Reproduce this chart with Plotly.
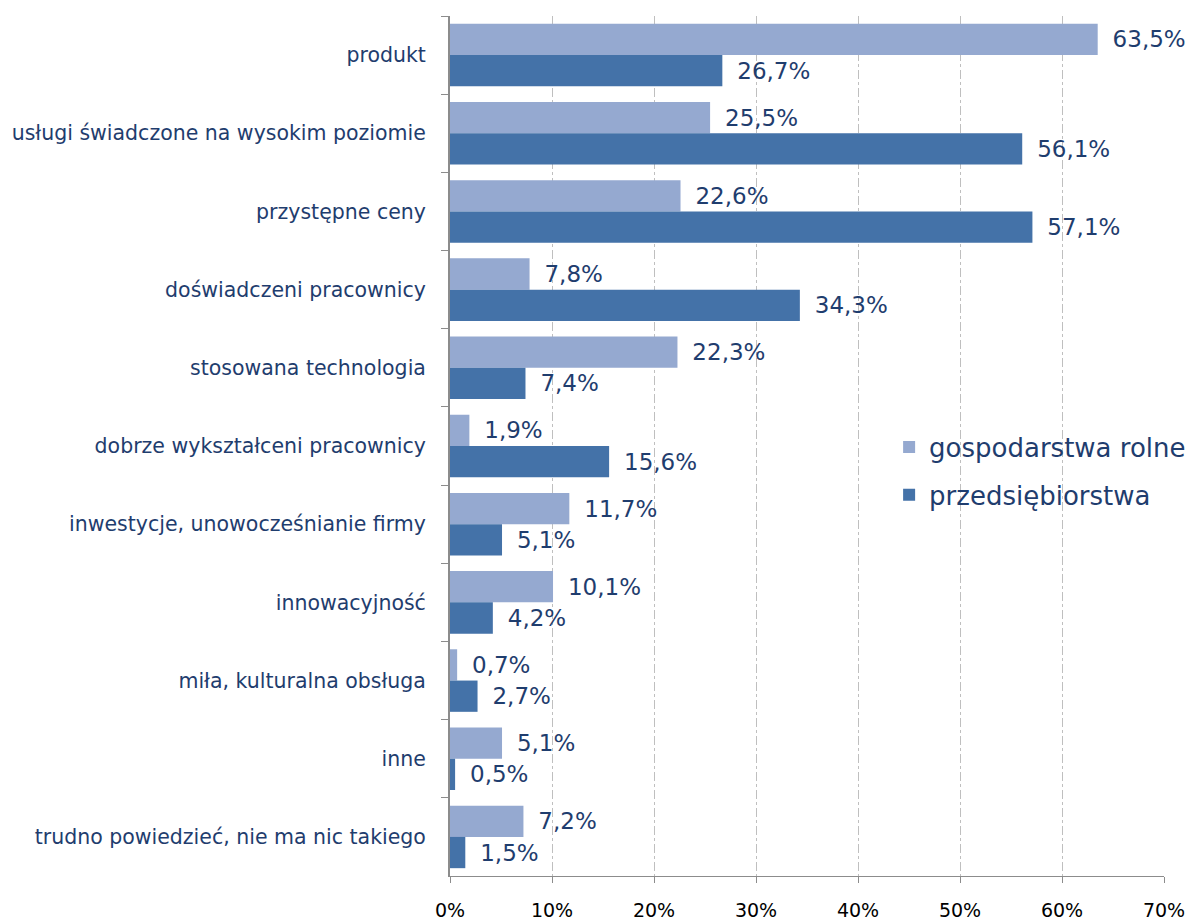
import plotly.graph_objects as go

categories = [
    "produkt",
    "usługi świadczone na wysokim poziomie",
    "przystępne ceny",
    "doświadczeni pracownicy",
    "stosowana technologia",
    "dobrze wykształceni pracownicy",
    "inwestycje, unowocześnianie firmy",
    "innowacyjność",
    "miła, kulturalna obsługa",
    "inne",
    "trudno powiedzieć, nie ma nic takiego",
]
gospodarstwa = [63.5, 25.5, 22.6, 7.8, 22.3, 1.9, 11.7, 10.1, 0.7, 5.1, 7.2]
przedsiebiorstwa = [26.7, 56.1, 57.1, 34.3, 7.4, 15.6, 5.1, 4.2, 2.7, 0.5, 1.5]
series_names = ["gospodarstwa rolne", "przedsiębiorstwa"]
tick_vals = [0, 10, 20, 30, 40, 50, 60, 70]
tick_text = ["0%", "10%", "20%", "30%", "40%", "50%", "60%", "70%"]

FONT = "DejaVu Sans"
TXT = "#1F3D6E"

def fmt(v):
    return "\u00a0\u2009" + f"{v:.1f}".replace(".", ",") + "%"

fig = go.Figure()
for name, vals, col in [(series_names[0], gospodarstwa, "#95A9D0"),
                        (series_names[1], przedsiebiorstwa, "#4472A8")]:
    fig.add_trace(go.Bar(
        y=categories, x=vals, orientation="h", name=name, legendgroup=name,
        marker=dict(color=col, line=dict(width=0)),
        text=[fmt(v) for v in vals], textposition="outside",
        constraintext="none",
        textfont=dict(family=FONT, size=23, color=TXT),
        cliponaxis=False,
    ))

fig.update_layout(
    width=1189, height=924,
    margin=dict(l=450, r=25, t=16, b=48, autoexpand=False),
    paper_bgcolor="white", plot_bgcolor="white",
    barmode="group", bargap=0.2, bargroupgap=0,
    font=dict(family=FONT, color=TXT),
    showlegend=True,
    legend=dict(x=0.615, y=0.526, xanchor="left", yanchor="top",
                font=dict(family=FONT, size=26, color=TXT),
                bgcolor="rgba(0,0,0,0)", itemwidth=30, tracegroupgap=11),
)
fig.update_xaxes(
    range=[0, 70], tickvals=tick_vals, ticktext=tick_text,
    showgrid=True, gridcolor="#BFBFBF", griddash="dashdot", gridwidth=1,
    showline=True, linecolor="#8C8C8C", linewidth=1,
    ticks="outside", ticklen=6, tickcolor="#8C8C8C",
    tickfont=dict(family=FONT, size=19, color="black"),
    ticklabelstandoff=11,
    zeroline=False, automargin=False,
)
fig.update_yaxes(
    autorange="reversed", type="category",
    showline=True, linecolor="#8C8C8C", linewidth=2,
    ticks="outside", tickson="boundaries", ticklen=7, tickcolor="#8C8C8C",
    tickfont=dict(family=FONT, size=20.5, color=TXT),
    ticklabelstandoff=18,
    showgrid=False, automargin=False,
)

post = ("document.body.style.margin='0';document.body.style.padding='0';"
        "document.documentElement.style.overflow='hidden';"
        "document.body.style.overflow='hidden';")
fig.write_html("out.html", post_script=post, config={"displayModeBar": False})
